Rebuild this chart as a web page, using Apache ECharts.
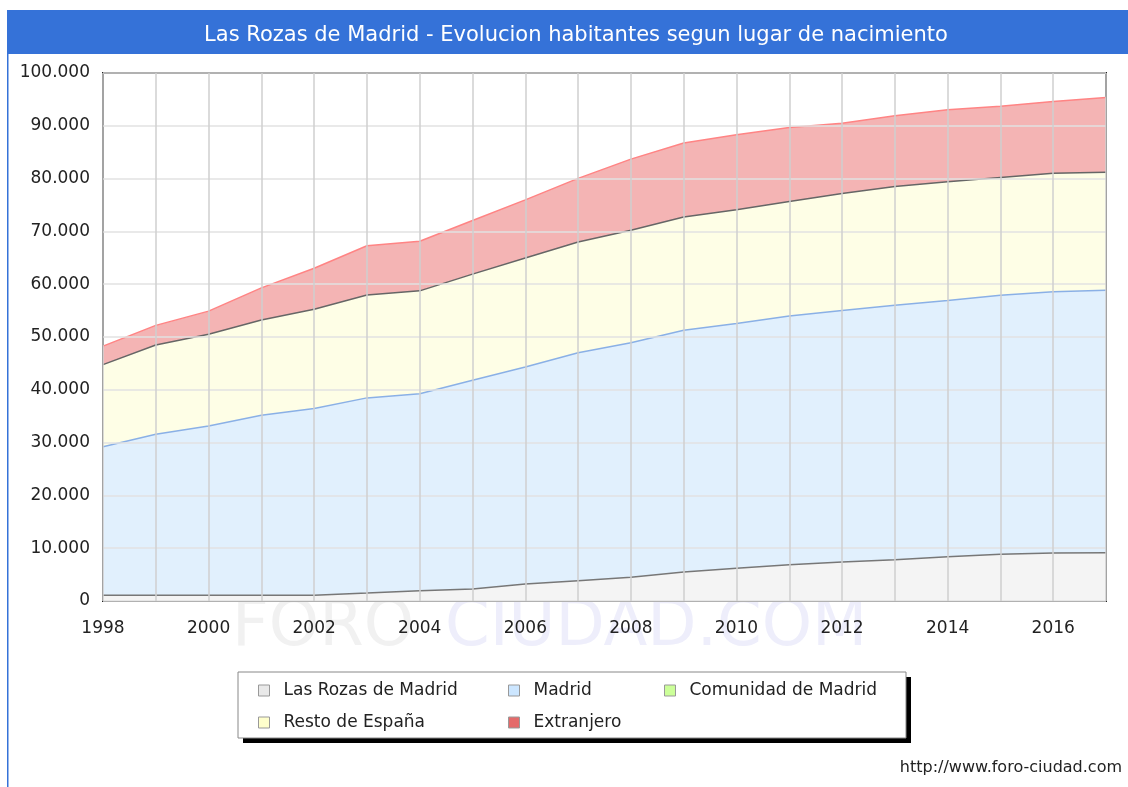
<!DOCTYPE html>
<html>
<head>
<meta charset="utf-8">
<script src="https://cdn.jsdelivr.net/npm/echarts@6/dist/echarts.min.js"></script>
<style>
  html, body { margin: 0; padding: 0; background: #fff; }
  #chart { width: 1128px; height: 787px; }
</style>
</head>
<body>
<div id="chart"></div>
<script>
const years = ['1998','1999','2000','2001','2002','2003','2004','2005','2006','2007',
               '2008','2009','2010','2011','2012','2013','2014','2015','2016','2017'];

// habitantes por lugar de nacimiento
const lasRozas   = [1100, 1100, 1100, 1100, 1100, 1500, 1950, 2250, 3200, 3850, 4500, 5500, 6200, 6850, 7400, 7800, 8400, 8850, 9100, 9150];
const madrid     = [28100, 30480, 32030, 34060, 35340, 36970, 37300, 39560, 41120, 43170, 44420, 45790, 46370, 47140, 47600, 48210, 48490, 49060, 49480, 49700];
const comunidad  = [0, 0, 0, 0, 0, 0, 0, 0, 0, 0, 0, 0, 0, 0, 0, 0, 0, 0, 0, 0];
const restoEsp   = [15560, 16900, 17380, 18050, 18800, 19475, 19490, 20100, 20630, 20980, 21310, 21440, 21520, 21690, 22160, 22500, 22500, 22290, 22430, 22370];
const extranjero = [3520, 3720, 4390, 6090, 7780, 9330, 9400, 10150, 11030, 12040, 13460, 14010, 14200, 13980, 13310, 13380, 13650, 13520, 13580, 14120];

const FONT = 'DejaVu Sans';

function fmt(v) {
  return String(v).replace(/\B(?=(\d{3})+(?!\d))/g, '.');
}

function area(name, data, line, fill, lineW) {
  return {
    name: name,
    type: 'line',
    stack: 'total',
    data: data,
    symbol: 'none',
    silent: true,
    lineStyle: { color: line, width: lineW },
    itemStyle: { color: fill },
    areaStyle: { color: fill, opacity: 1 }
  };
}

function legendBox(left, names, colors) {
  return {
    orient: 'vertical',
    left: left,
    top: 677,
    itemGap: 15,
    itemWidth: 11,
    itemHeight: 11,
    icon: 'rect',
    selectedMode: false,
    data: names.map((n, i) => ({
      name: n,
      itemStyle: { color: colors[i], borderColor: '#999', borderWidth: 1 }
    })),
    textStyle: { fontFamily: FONT, fontSize: 17, color: '#222', padding: [0, 0, 0, 9] }
  };
}

const chart = echarts.init(document.getElementById('chart'));
chart.setOption({
  animation: false,
  backgroundColor: '#fff',
  title: {
    text: 'Las Rozas de Madrid - Evolucion habitantes segun lugar de nacimiento',
    left: 571,
    top: 20,
    textAlign: 'center',
    textStyle: { fontFamily: FONT, fontSize: 21, fontWeight: 'normal', color: '#fff' }
  },
  graphic: [
    { type: 'rect', z: -10, shape: { x: 7, y: 10, width: 1121, height: 44 }, style: { fill: '#3572d8' } },
    { type: 'rect', z: -10, shape: { x: 7, y: 54, width: 1.5, height: 733 }, style: { fill: '#3572d8' } },
    { type: 'text', z: -5, left: 232, top: 596,
      style: { text: 'FORO', font: '64px "DejaVu Sans"', fill: '#f1f1f1' } },
    { type: 'text', z: -5, left: 445, top: 596,
      style: { text: 'CIUDAD.COM', font: '64px "DejaVu Sans"', fill: '#eeeefb' } },
    { type: 'rect', z: 1, shape: { x: 243, y: 677, width: 668, height: 66 }, style: { fill: '#000' } },
    { type: 'rect', z: 2, shape: { x: 238, y: 672, width: 668, height: 66 }, style: { fill: '#fff', stroke: '#888', lineWidth: 1 } },
    { type: 'text', right: 6, top: 760,
      style: { text: 'http://www.foro-ciudad.com', font: '16px "DejaVu Sans"', fill: '#222' } }
  ],
  legend: [
    legendBox(253, ['Las Rozas de Madrid', 'Resto de España'], ['#e9e9e9', '#ffffcc']),
    legendBox(503, ['Madrid', 'Extranjero'], ['#cce6ff', '#e46a6a']),
    legendBox(659, ['Comunidad de Madrid'], ['#ccff99'])
  ],
  grid: {
    left: 103, right: 22, top: 73, bottom: 186,
    show: true, borderColor: '#222', borderWidth: 2, backgroundColor: '#fff', z: 3
  },
  xAxis: {
    type: 'category',
    data: years,
    boundaryGap: false,
    axisLine: { show: false },
    axisTick: { show: false },
    axisLabel: { interval: 1, fontFamily: FONT, fontSize: 17, color: '#222', margin: 19 },
    splitLine: { show: true, interval: 0, lineStyle: { color: '#cfcfcf', width: 1.5 } },
    z: 5
  },
  yAxis: {
    type: 'value',
    min: 0,
    max: 100000,
    interval: 10000,
    axisLine: { show: false },
    axisTick: { show: false },
    axisLabel: { fontFamily: FONT, fontSize: 17, color: '#222', margin: 13, formatter: fmt },
    splitLine: { show: true, lineStyle: { color: '#e2e2e2', width: 1.5 } },
    z: 5
  },
  series: [
    area('Las Rozas de Madrid', lasRozas, '#777', '#f4f4f4', 1.5),
    area('Madrid', madrid, '#8ab0e6', '#e1f0fd', 1.5),
    area('Comunidad de Madrid', comunidad, '#9c9', '#ccff99', 0),
    area('Resto de España', restoEsp, '#666', '#fefee6', 1.5),
    area('Extranjero', extranjero, '#ff8484', '#f4b4b4', 1.5)
  ]
});
</script>
</body>
</html>
